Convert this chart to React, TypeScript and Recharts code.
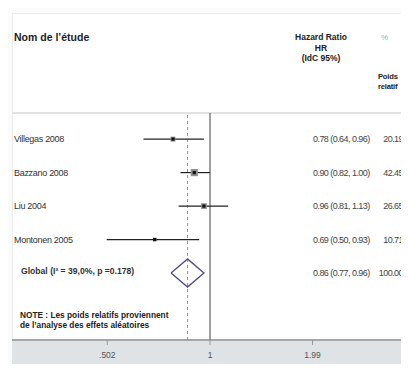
import React from 'react';
import { ScatterChart, Scatter, XAxis, YAxis, ErrorBar, ReferenceLine } from 'recharts';

const studies = ['Villegas 2008', 'Bazzano 2008', 'Liu 2004', 'Montonen 2005'];
const hr = [0.78, 0.9, 0.96, 0.69];
const lower = [0.64, 0.82, 0.81, 0.5];
const upper = [0.96, 1.0, 1.13, 0.93];
const weights = [20.19, 42.45, 26.65, 10.71];

const pooledLabel = 'Global (I² = 39,0%, p =0.178)';
const pooled = [0.86, 0.77, 0.96]; // hr, lower, upper
const pooledWeight = 100;

const xTicks = [0.502, 1, 1.99];
const xDomain = [0.2648, 4.093];

const FONT = "'Liberation Sans', Arial, sans-serif";
const fmt = (v: number) => v.toFixed(2);

const rows = studies.map((name, i) => ({
  name,
  x: hr[i],
  y: i,
  w: weights[i],
  err: [hr[i] - lower[i], upper[i] - hr[i]],
}));

const pooledRow = rows.length;
const rowTicks = [...rows.map((r) => r.y), pooledRow];
const diamondHalf = 0.42;
const diamond = [
  { x: pooled[1], y: pooledRow },
  { x: pooled[0], y: pooledRow - diamondHalf },
  { x: pooled[2], y: pooledRow },
  { x: pooled[0], y: pooledRow + diamondHalf },
  { x: pooled[1], y: pooledRow },
];

const RowTick = (props: any) => {
  const { y, payload } = props;
  const i = Math.round(payload.value);
  const isPooled = i === pooledRow;
  const label = isPooled ? pooledLabel : studies[i];
  const ci = isPooled
    ? `${fmt(pooled[0])} (${fmt(pooled[1])}, ${fmt(pooled[2])})`
    : `${fmt(hr[i])} (${fmt(lower[i])}, ${fmt(upper[i])})`;
  const w = isPooled ? pooledWeight : weights[i];
  return (
    <g fontFamily={FONT}>
      <text
        x={isPooled ? 21 : 14}
        y={isPooled ? y - 2 : y}
        dominantBaseline="central"
        fontSize={isPooled ? 8.6 : 9}
        fontWeight={isPooled ? 'bold' : 'normal'}
        letterSpacing={isPooled ? 0 : -0.3}
        fill="#333"
      >
        {label}
      </text>
      <text x={313} y={y} dominantBaseline="central" fontSize={9} letterSpacing={-0.55} fill="#444">
        {ci}
      </text>
      <text x={403} y={y} textAnchor="end" dominantBaseline="central" fontSize={9} letterSpacing={-0.55} fill="#444">
        {w.toFixed(2)}
      </text>
    </g>
  );
};

const StudyMark = (props: any) => {
  const { cx, cy, payload } = props;
  const s = Math.sqrt(payload.w) * 1.1;
  return (
    <g>
      <rect x={cx - s / 2} y={cy - s / 2} width={s} height={s} fill="#8f8f8f" />
      <rect x={cx - 1.6} y={cy - 1.6} width={3.2} height={3.2} fill="#111" />
    </g>
  );
};

const abs = (style: React.CSSProperties): React.CSSProperties => ({ position: 'absolute', ...style });

export default function App() {
  return (
    <div
      style={{
        position: 'relative',
        width: 409,
        height: 372,
        margin: -8,
        overflow: 'hidden',
        background: '#fbfbfb',
        fontFamily: FONT,
      }}
    >
      <div style={abs({ left: 12, top: 13, width: 420, height: 359, background: '#fff', borderLeft: '1px solid #ececec', borderTop: '1px solid #ececec' })} />
      <div style={abs({ left: 12, top: 112, width: 420, height: 2, background: '#e2e2e2' })} />
      <div style={abs({ left: 12, top: 341, width: 420, height: 31, background: '#dfe3e6' })} />

      <div style={abs({ left: 14, top: 31, fontSize: 10.5, fontWeight: 'bold', color: '#222' })}>Nom de l’étude</div>
      <div style={abs({ left: 281, top: 32, width: 80, textAlign: 'center', fontSize: 8.5, fontWeight: 'bold', lineHeight: '10.5px', color: '#222' })}>
        Hazard Ratio<br />HR<br />(IdC 95%)
      </div>
      <div style={abs({ left: 381, top: 33, fontSize: 8, color: '#aaa' })}>%</div>
      <div style={abs({ left: 378, top: 72, fontSize: 7.6, fontWeight: 'bold', lineHeight: '10px', letterSpacing: -0.2, color: '#222', whiteSpace: 'nowrap' })}>
        Poids<br />relatif
      </div>
      <div style={abs({ left: 20, top: 311, fontSize: 8.3, fontWeight: 'bold', lineHeight: '9.5px', color: '#222', whiteSpace: 'nowrap' })}>
        NOTE : Les poids relatifs proviennent<br />de l’analyse des effets aléatoires
      </div>

      <div style={abs({ left: 0, top: 0 })}>
        <ScatterChart width={420} height={372} margin={{ top: 113, right: 0, bottom: 0, left: 11 }}>
          <XAxis
            type="number"
            dataKey="x"
            scale="log"
            domain={xDomain}
            allowDataOverflow
            ticks={xTicks}
            tickFormatter={(v: number) => (v === 0.502 ? '.502' : String(v))}
            height={32}
            axisLine={{ stroke: '#8a8a8a', strokeWidth: 1.5 }}
            tickLine={{ stroke: '#999' }}
            tickSize={5}
            tickMargin={7}
            tick={{ fontSize: 8.5, fill: '#555', fontFamily: FONT }}
          />
          <YAxis
            type="number"
            dataKey="y"
            domain={[-0.78, 6.0]}
            reversed
            allowDataOverflow
            width={1}
            axisLine={false}
            tickLine={false}
            ticks={rowTicks}
            tick={(p: any) => <RowTick {...p} />}
            interval={0}
          />
          <ReferenceLine x={1} stroke="#777" strokeWidth={1.4} />
          <ReferenceLine x={pooled[0]} stroke="#e07c7c" strokeWidth={1.1} strokeDasharray="3 3" />
          <Scatter data={rows} shape={<StudyMark />} isAnimationActive={false}>
            <ErrorBar dataKey="err" direction="x" width={0} stroke="#222" strokeWidth={1.2} />
          </Scatter>
          <Scatter
            data={diamond}
            line={{ stroke: '#554f86', strokeWidth: 1.4 }}
            lineType="joint"
            shape={() => <g />}
            isAnimationActive={false}
          />
        </ScatterChart>
      </div>
    </div>
  );
}
